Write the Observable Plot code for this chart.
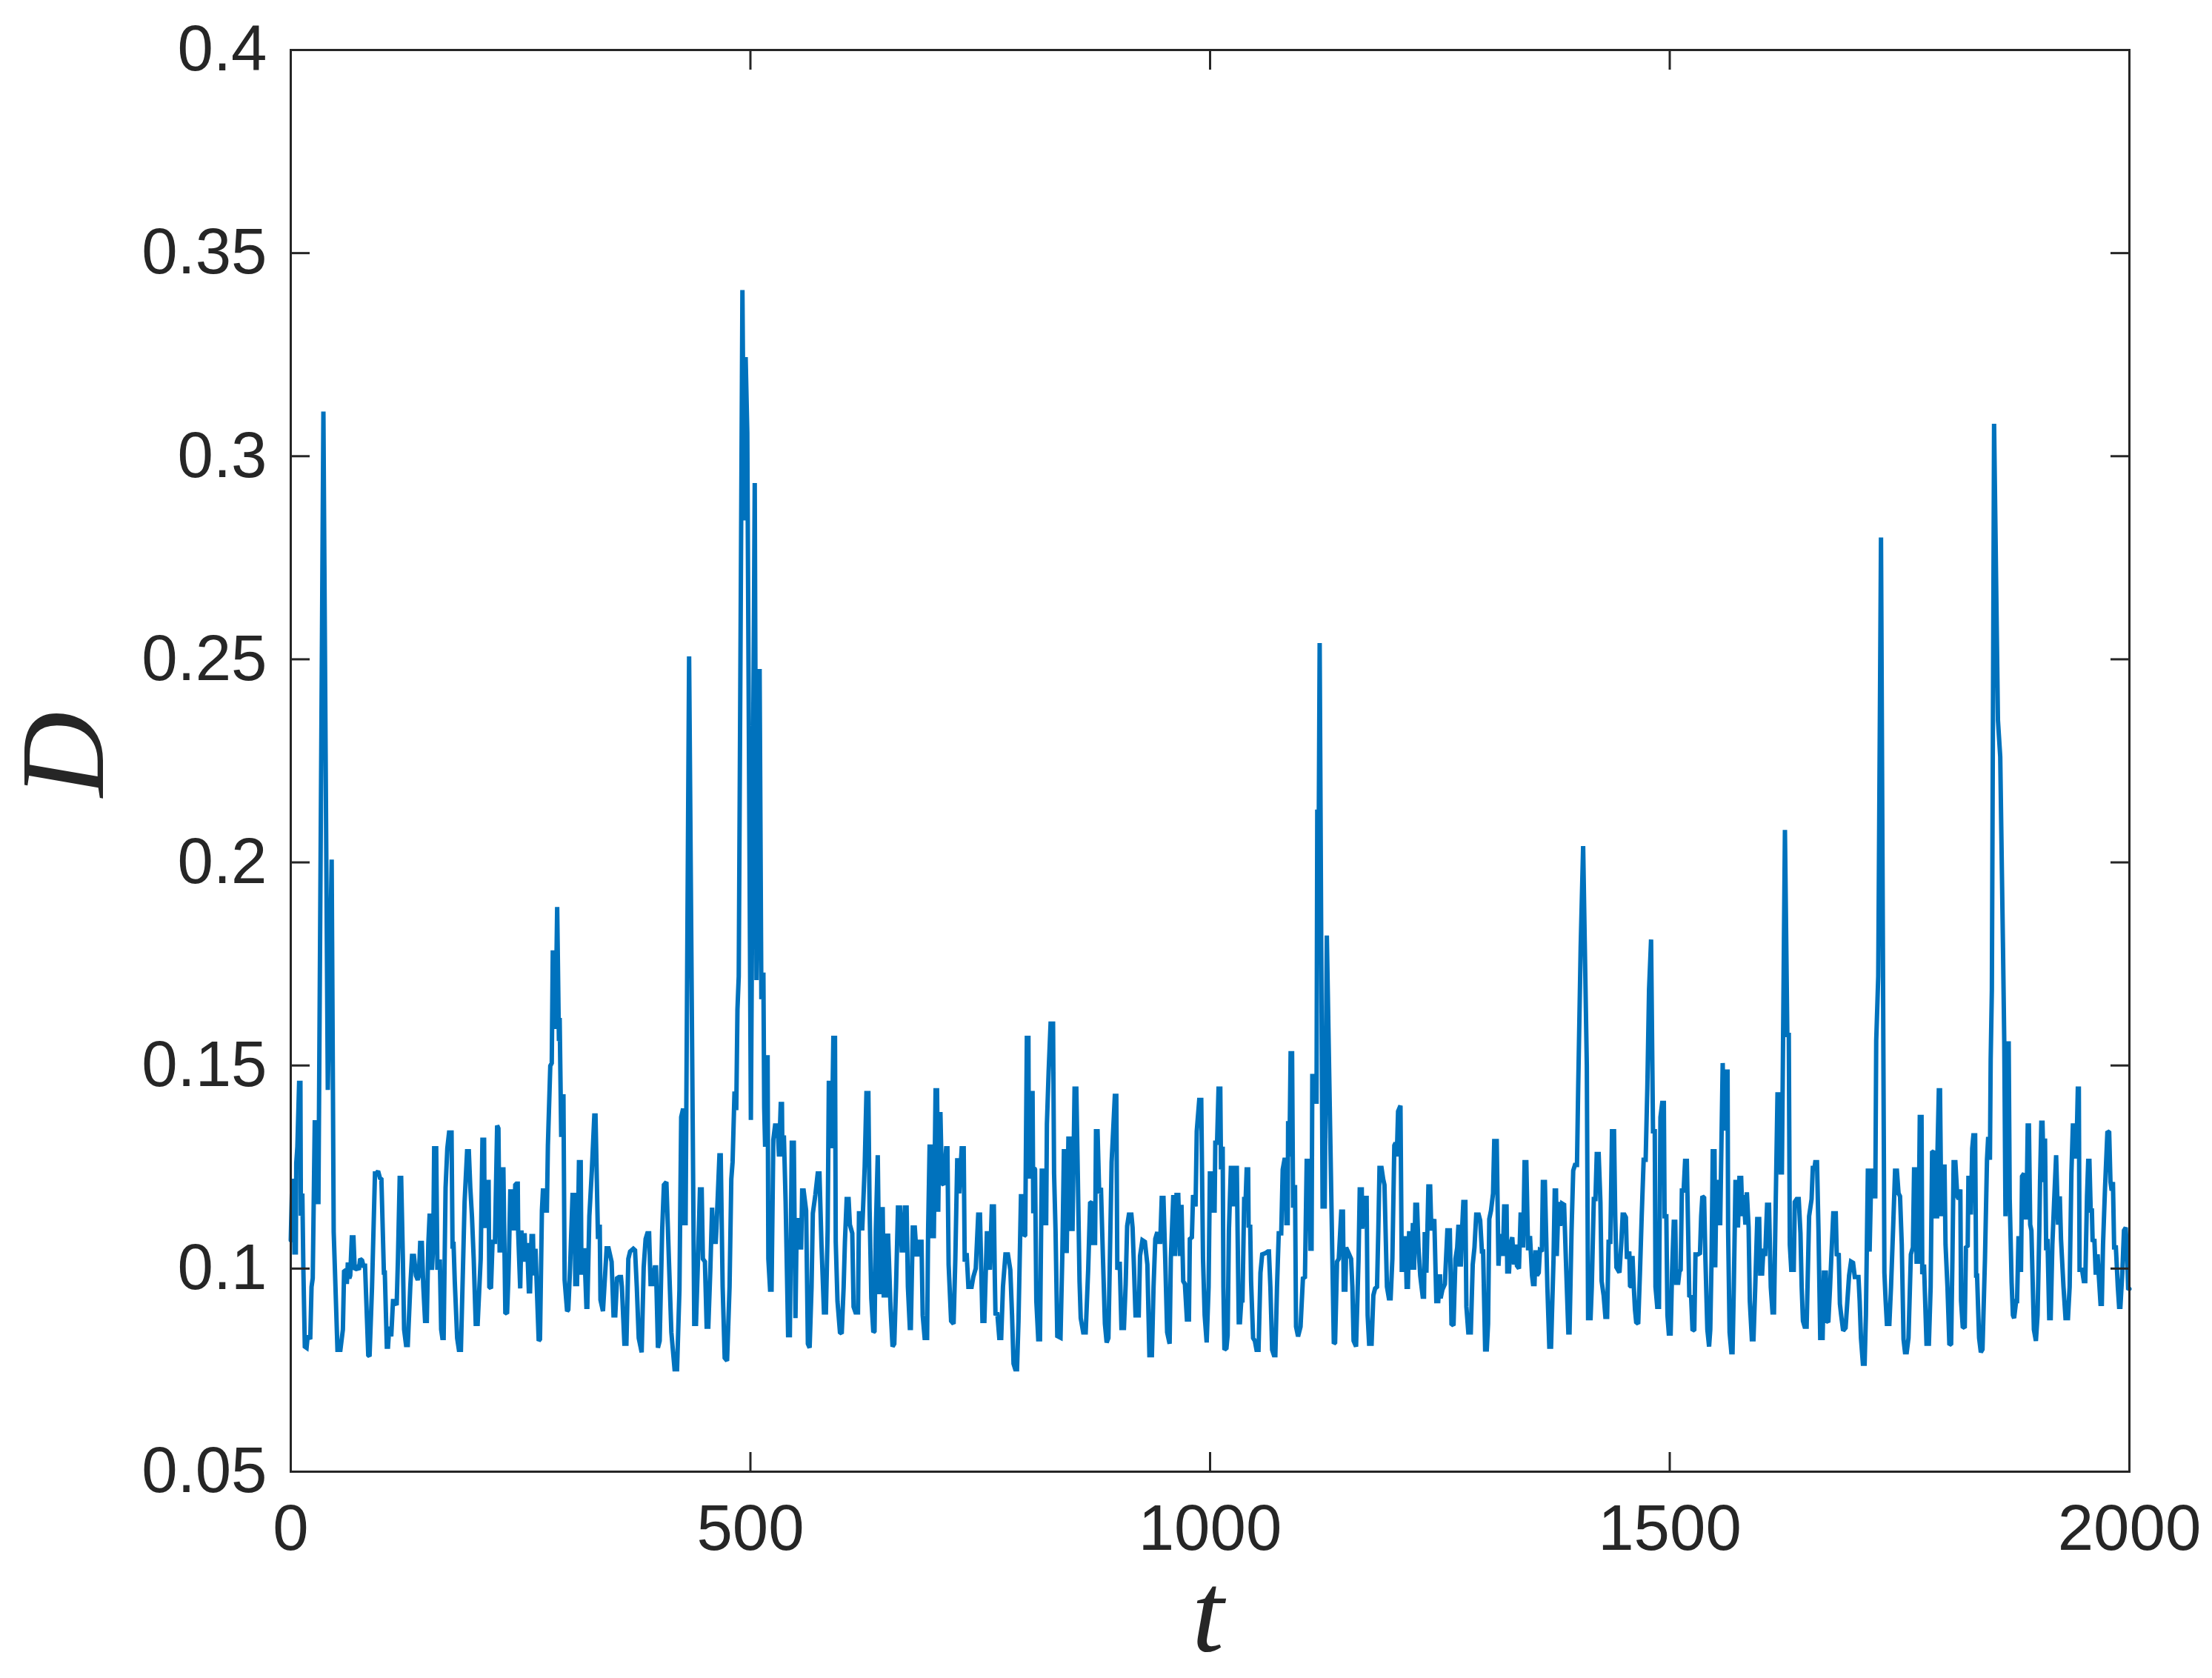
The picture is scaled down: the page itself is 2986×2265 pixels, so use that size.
<!DOCTYPE html>
<html>
<head>
<meta charset="utf-8">
<script src="https://cdn.jsdelivr.net/npm/d3@7"></script>
<script src="https://cdn.jsdelivr.net/npm/@observablehq/plot@0.6"></script>
<style>
  html, body { margin: 0; padding: 0; background: #fff; }
  #chart svg { display: block; }
</style>
</head>
<body>
<div id="chart"></div>
<script>
// ---- tick values and labels ----
const xTicks = [0, 500, 1000, 1500, 2000];
const xTickLabels = ["0", "500", "1000", "1500", "2000"];
const yTicks = [0.05, 0.1, 0.15, 0.2, 0.25, 0.3, 0.35, 0.4];
const yTickLabels = ["0.05", "0.1", "0.15", "0.2", "0.25", "0.3", "0.35", "0.4"];
const xLabel = "t";
const yLabel = "D";

// ---- series values, [t, D] ----
const seg0to245 = [[0,0.107],[1.5,0.1216],[3,0.1216],[4,0.104],[5.5,0.104],[6,0.126],[7.2,0.130],[9.1,0.1457],[10.5,0.1457],[11,0.113],[12.6,0.1185],[13.7,0.100],[15.3,0.0808],[17.2,0.0805],[18.5,0.0836],[21.2,0.0826],[22.6,0.0955],[23.9,0.0976],[26.1,0.136],[28,0.136],[28.7,0.1164],[30.1,0.1164],[35.5,0.311],[40.3,0.144],[44.5,0.2007],[46.7,0.109],[48,0.1],[50.8,0.080],[54,0.080],[56.7,0.085],[58,0.0993],[60.2,0.0997],[61,0.0962],[62.1,0.1015],[63.7,0.0976],[64.7,0.0983],[66.4,0.1077],[68.2,0.1077],[69.6,0.0997],[72.3,0.1003],[74.1,0.0997],[75.5,0.1024],[77.6,0.102],[79,0.1007],[80.8,0.1007],[84.3,0.0787],[85.7,0.0784],[88.4,0.0955],[91.6,0.1234],[93.2,0.1234],[95,0.124],[97,0.1223],[98.6,0.122],[101.3,0.099],[102.3,0.099],[104.5,0.0808],[105.8,0.0808],[107.2,0.0857],[109.3,0.0833],[111.2,0.092],[112.6,0.092],[115.2,0.091],[116.6,0.1024],[118.5,0.1223],[120.1,0.1223],[121.9,0.1031],[123.3,0.085],[125.4,0.0812],[127.3,0.0812],[130,0.0955],[131.9,0.1031],[134,0.1031],[136.2,0.0983],[138.1,0.0972],[139.4,0.0983],[140.8,0.1063],[142.6,0.1063],[144.2,0.0955],[146.1,0.0871],[148,0.0871],[149.6,0.1059],[151,0.113],[152.8,0.113],[153.6,0.0997],[155,0.1059],[156,0.1296],[158.2,0.1296],[159.5,0.0997],[160.9,0.1017],[162.2,0.1017],[163.6,0.085],[164.9,0.0829],[166.3,0.0829],[168.4,0.1199],[170.3,0.1296],[172.2,0.1335],[174.9,0.1335],[176,0.1049],[177,0.1066],[178.4,0.0969],[181,0.0829],[182.9,0.08],[185.1,0.08],[189.1,0.1164],[191.8,0.1289],[193.7,0.1289],[195.3,0.1199],[197.1,0.1129],[199,0.1024],[201.2,0.0864],[203.3,0.0864],[206.6,0.1024],[208.5,0.1317],[210.3,0.1317],[210.9,0.11],[212.5,0.1213],[215.2,0.1213],[216,0.0955],[217.8,0.0951],[219.5,0.1066],[222.1,0.1066],[224.5,0.1352],[225.9,0.1345],[227.2,0.1045],[228.8,0.1045],[230.2,0.1244],[231.3,0.1244],[233.4,0.0892],[235.3,0.0889],[236.6,0.097],[237.4,0.1038],[238.8,0.119],[241,0.119],[242.8,0.1094],[244.2,0.1206]];

const seg245to520 = [[245.5,0.1209],[246.9,0.1209],[247.4,0.1087],[249.6,0.0951],[250.9,0.1094],[252.8,0.1017],[254.4,0.1087],[255.5,0.1017],[257.1,0.1063],[259,0.0944],[260.3,0.0944],[261.9,0.108],[263.5,0.108],[264.3,0.0983],[266.2,0.1049],[269.7,0.0822],[271.1,0.0826],[273.2,0.1143],[274.3,0.1192],[275.9,0.1192],[277,0.1143],[278.6,0.1143],[279.7,0.1303],[282.3,0.1499],[283.9,0.1506],[285,0.1778],[287.2,0.1778],[288,0.159],[289.8,0.189],[291.7,0.156],[292.5,0.1617],[294.2,0.1324],[296.6,0.1429],[297.9,0.0972],[300.6,0.0895],[301.9,0.0899],[303.8,0.1],[306.5,0.1181],[308.7,0.1181],[309.5,0.0962],[311.4,0.0962],[313.5,0.1262],[315.4,0.1262],[316.2,0.099],[317.3,0.099],[318.1,0.1045],[319.4,0.1045],[321.6,0.0906],[322.6,0.0906],[324.8,0.1129],[327.5,0.1241],[330.2,0.1377],[331.5,0.1377],[334.2,0.1073],[336.1,0.1108],[336.9,0.0923],[339.6,0.0895],[343.6,0.105],[345.7,0.105],[349,0.1017],[351.1,0.0885],[353,0.0885],[354.9,0.0976],[357,0.0979],[359.2,0.0979],[360.2,0.0955],[362.9,0.0815],[365.1,0.0815],[367.2,0.1024],[369.1,0.1042],[372.6,0.1049],[374.5,0.1045],[376.4,0.0955],[378.5,0.0829],[381.7,0.0794],[383.9,0.1003],[386,0.1073],[387.9,0.1087],[389.8,0.1087],[391.4,0.0962],[393.3,0.0962],[396,0.1003],[397.3,0.1003],[399.4,0.0805],[401.3,0.0822],[404,0.1094],[405.9,0.1206],[408.6,0.1213],[411.3,0.1024],[414,0.0843],[417.5,0.0752],[420.2,0.0752],[422.8,0.0948],[424.7,0.1373],[426.8,0.1394],[428.2,0.1112],[429.5,0.1112],[433.3,0.2507],[438.9,0.0864],[440.8,0.0864],[443,0.1024],[445.1,0.1195],[447,0.1195],[448.3,0.1024],[450.5,0.1017],[452.4,0.0857],[454.2,0.0857],[456.4,0.0997],[458.3,0.115],[459.9,0.1066],[462.3,0.1066],[463.1,0.1101],[466.3,0.1279],[467.7,0.1279],[469.8,0.0955],[472,0.078],[474.6,0.0773],[477.3,0.0955],[479.2,0.122],[480.6,0.1262],[482.7,0.1436],[484.6,0.139],[485.9,0.1638],[487.3,0.172],[491.3,0.3409],[493.2,0.2842],[494.8,0.3244],[496.6,0.3058],[500.5,0.1366],[504.7,0.2934],[506.6,0.171],[510,0.2476],[511.9,0.1663],[514.1,0.1729],[515,0.1397],[516,0.13],[517.6,0.152],[518.7,0.152],[519.5,0.1024]];

const seg520to750 = [[521.4,0.0948],[523,0.0948],[524.9,0.1317],[526.8,0.1352],[529.5,0.1352],[531.1,0.1276],[533,0.1405],[534.3,0.1405],[534.8,0.1276],[536.4,0.1328],[538.3,0.1164],[541,0.0836],[542.9,0.0836],[545,0.131],[547.2,0.131],[549,0.0878],[550.4,0.1119],[552.6,0.1119],[553.6,0.1052],[555.2,0.1052],[556.3,0.1192],[557.9,0.1192],[560.6,0.1143],[562.5,0.0815],[564.4,0.0805],[566.5,0.0955],[567.9,0.1136],[570.6,0.1181],[573.2,0.1234],[575.1,0.1234],[577.3,0.1059],[580,0.0892],[582.1,0.0892],[584,0.1094],[585.3,0.1457],[587.5,0.1457],[588.5,0.1296],[590.2,0.1568],[592,0.1568],[592.8,0.1066],[594.7,0.092],[597.4,0.0843],[599.3,0.084],[601.4,0.0955],[602.8,0.1066],[604.7,0.1171],[606.8,0.1171],[608.2,0.1108],[610.8,0.1087],[612.2,0.0906],[614.3,0.0892],[617,0.0892],[618.1,0.1136],[619.7,0.1136],[621.6,0.1094],[624.3,0.1251],[626.2,0.1432],[628.3,0.1432],[629.6,0.115],[631.5,0.0927],[633.7,0.0843],[635,0.0846],[636.4,0.1094],[638.5,0.1279],[640.4,0.0937],[641.7,0.1146],[643.9,0.1146],[645,0.0934],[647.6,0.0934],[648.4,0.1081],[649.8,0.1081],[652.5,0.0899],[654.6,0.0808],[656.5,0.0815],[658.4,0.0955],[660.5,0.115],[662.7,0.115],[664.6,0.1045],[666.4,0.1045],[668,0.115],[669.9,0.115],[671.3,0.0955],[673.4,0.0854],[674.5,0.0854],[676.6,0.1101],[678.8,0.1101],[680.7,0.1035],[682.6,0.1035],[684.2,0.1066],[686.1,0.1066],[687.4,0.0885],[689.5,0.0829],[692.2,0.0829],[693.3,0.1094],[694.9,0.13],[696,0.13],[697.3,0.108],[699.5,0.108],[701.4,0.1439],[703,0.1439],[704.3,0.114],[705.7,0.138],[706.7,0.138],[708.3,0.121],[710.2,0.1206],[712.9,0.1296],[714.3,0.1296],[715.6,0.101],[718.3,0.0871],[721,0.0864],[722.9,0.1024],[725,0.1272],[727.1,0.1185],[729.8,0.1296],[732,0.1296],[733.1,0.1017],[735.2,0.1038],[737.1,0.0955],[740.6,0.0955],[742.5,0.098],[745.1,0.1],[747.8,0.1133],[749.7,0.1133]];

const seg750to1000 = [[752.4,0.0871],[754.5,0.0871],[757.2,0.1087],[758.6,0.1087],[760.5,0.0997],[762.6,0.1153],[764.8,0.1153],[765.8,0.0983],[766.6,0.0885],[768.5,0.0892],[770.7,0.0829],[772.8,0.0829],[774.7,0.0955],[777.4,0.1035],[780.1,0.1035],[782.7,0.0997],[784.6,0.0885],[786.2,0.0766],[788.1,0.0752],[790,0.0752],[791.6,0.0871],[794.3,0.1178],[796.2,0.1178],[797.5,0.108],[798.9,0.1083],[800.7,0.1568],[802.4,0.1568],[802.9,0.1227],[804.2,0.1227],[805.6,0.1432],[806.9,0.1432],[807.7,0.1136],[808.8,0.1248],[809.6,0.1244],[811,0.092],[813.1,0.0826],[815,0.0826],[816.9,0.1241],[818.5,0.1241],[819.8,0.1112],[821.7,0.1112],[822.5,0.1356],[824.4,0.1485],[826.5,0.1603],[829.2,0.1603],[830.3,0.1234],[831.9,0.1094],[833.8,0.0834],[837.3,0.083],[839.2,0.1024],[841,0.1289],[843.2,0.1289],[844,0.1038],[845.9,0.132],[847.2,0.132],[848.6,0.1098],[850.4,0.1098],[852.6,0.1443],[854.5,0.1443],[856.1,0.1234],[858,0.0969],[859.3,0.0878],[862,0.0843],[864.7,0.0843],[867.4,0.0997],[869.5,0.1161],[871.4,0.1164],[872.7,0.1063],[874.9,0.1063],[875.9,0.1338],[877.6,0.1338],[879.4,0.1185],[881.3,0.1199],[883.5,0.1024],[885.6,0.0864],[887.5,0.0818],[889.4,0.0829],[891,0.1024],[892.9,0.1262],[896.4,0.1425],[898,0.1425],[899.1,0.0997],[901.7,0.1017],[903.6,0.0854],[906.3,0.0854],[908.2,0.0962],[909.8,0.1105],[911.7,0.1133],[914.4,0.1133],[915.7,0.1101],[917,0.1017],[918.9,0.0885],[922.4,0.0885],[923.8,0.1031],[926.4,0.107],[929.1,0.1066],[931.8,0.101],[934,0.0787],[936.7,0.0787],[938.5,0.0955],[940.4,0.1073],[942.6,0.109],[943.9,0.1066],[945.8,0.1066],[947.4,0.1174],[949.3,0.1174],[951.2,0.1024],[953.3,0.0843],[956,0.0815],[957.3,0.1024],[960,0.1181],[961.9,0.1031],[963.5,0.1181],[965.4,0.1181],[967.3,0.1031],[968.9,0.1157],[970.8,0.0969],[972.6,0.0962],[974.8,0.0875],[977,0.0875],[978,0.1073],[980.2,0.1077],[981.5,0.1181],[984.2,0.1153],[985.5,0.1338],[988.2,0.1415],[990.4,0.1415],[992.3,0.1024],[994.1,0.0885],[996.3,0.0818],[998.4,0.0955],[999.8,0.1234],[1001.2,0.1234]];

const seg1000to1250 = [[1003,0.1143],[1004.9,0.1143],[1005.7,0.131],[1007.6,0.131],[1009.2,0.1443],[1011.1,0.1443],[1011.9,0.1244],[1013.7,0.13],[1014.5,0.0955],[1015.6,0.08],[1017.8,0.0804],[1019.1,0.0836],[1020.5,0.1094],[1022.6,0.1248],[1024.5,0.1248],[1025.3,0.1153],[1027.2,0.1248],[1029.1,0.1248],[1029.9,0.1094],[1031.2,0.0868],[1032.5,0.0868],[1033.9,0.092],[1035.2,0.0917],[1037.1,0.1171],[1038.7,0.1171],[1039.8,0.1244],[1041.4,0.1244],[1041.9,0.1101],[1043.6,0.1108],[1044.6,0.0969],[1046.8,0.0829],[1048.7,0.0822],[1050.5,0.08],[1052.7,0.08],[1054.8,0.099],[1056.7,0.1035],[1060.2,0.1038],[1062.9,0.1042],[1064,0.1042],[1065.6,0.0955],[1067.5,0.08],[1069.4,0.0787],[1071,0.0787],[1072.8,0.0955],[1074.7,0.1087],[1077.4,0.1087],[1079,0.1244],[1080.9,0.1268],[1082.2,0.1268],[1083,0.1112],[1084.4,0.1112],[1084.9,0.1363],[1086.3,0.1276],[1087.6,0.153],[1089.2,0.153],[1090.3,0.115],[1092.4,0.1206],[1093.5,0.0857],[1095.7,0.0833],[1098.4,0.0857],[1101,0.0976],[1103.2,0.0979],[1105.1,0.1265],[1107.8,0.1265],[1109.1,0.1049],[1110.4,0.1049],[1111.2,0.1474],[1113.1,0.1474],[1113.9,0.1411],[1115.8,0.1411],[1116.6,0.213],[1117.8,0.19],[1119.2,0.254],[1122.4,0.1153],[1124.7,0.1153],[1127,0.182],[1134.6,0.0815],[1136,0.0818],[1138.1,0.1017],[1140,0.1024],[1142.7,0.114],[1144.5,0.114],[1145.4,0.0948],[1147.2,0.0948],[1148,0.1052],[1150.7,0.1038],[1153.4,0.1024],[1154.8,0.0955],[1156.1,0.0822],[1158.8,0.0808],[1161.5,0.1024],[1162.8,0.1195],[1165,0.1195],[1165.5,0.1098],[1168.2,0.1174],[1170.3,0.1174],[1171.4,0.0885],[1173,0.0815],[1175.7,0.0815],[1177.6,0.0934],[1179.5,0.0951],[1181.6,0.0955],[1183,0.1094],[1184.3,0.1248],[1186.5,0.1248],[1188.3,0.122],[1189.7,0.1206],[1192.4,0.0955],[1194.5,0.0927],[1196.4,0.0927],[1198.3,0.1024],[1200.4,0.1303],[1201.8,0.131],[1203.1,0.1276],[1204.5,0.1387],[1207.1,0.1401],[1208.5,0.0997],[1210.6,0.0997],[1212.5,0.108],[1213.8,0.0955],[1215.2,0.0955],[1216.5,0.1087],[1217.9,0.1087],[1219.2,0.0997],[1220.6,0.1112],[1221.9,0.0997],[1223.3,0.1157],[1225.1,0.1157],[1226.7,0.1052],[1228.6,0.0983],[1231.3,0.0931],[1232.7,0.0931],[1233.5,0.109],[1235.3,0.099],[1237.5,0.1202],[1239.4,0.1202],[1240.7,0.1094],[1243.9,0.1122],[1246.1,0.092],[1248.2,0.092],[1250.1,0.0986]];

const seg1250to1500 = [[1250.8,0.0927],[1252.7,0.0948],[1255.4,0.0962],[1258.1,0.1094],[1260.8,0.1094],[1262.6,0.0864],[1264.8,0.086],[1266.9,0.1024],[1268.8,0.1052],[1270.2,0.1108],[1271.5,0.101],[1272.8,0.101],[1274.2,0.1101],[1275.5,0.1164],[1277.7,0.1164],[1278.8,0.0906],[1280.9,0.0843],[1283.6,0.0843],[1285.7,0.101],[1287.6,0.1052],[1289.5,0.1133],[1292.2,0.1133],[1293.8,0.1119],[1295.7,0.1042],[1297,0.1042],[1299.2,0.0801],[1301,0.0801],[1302.4,0.0864],[1303.7,0.1122],[1305.6,0.1143],[1307.8,0.1185],[1309.1,0.1314],[1311.8,0.1314],[1313.7,0.1007],[1315.3,0.108],[1317.2,0.108],[1318.5,0.1031],[1319.9,0.1153],[1322.5,0.1153],[1323.3,0.0993],[1325.2,0.0993],[1326.6,0.1059],[1328.7,0.1077],[1330.6,0.101],[1332.5,0.1059],[1333.8,0.1007],[1336,0.1],[1337.8,0.1133],[1339.5,0.1133],[1340.5,0.1052],[1342.1,0.1262],[1344,0.1262],[1345.9,0.1045],[1348,0.108],[1350.2,0.0983],[1351.3,0.0962],[1352.9,0.0962],[1354,0.1045],[1355.6,0.0983],[1357.5,0.099],[1358.8,0.1045],[1360.9,0.1042],[1362,0.1213],[1364.2,0.1213],[1366.9,0.0955],[1369,0.0808],[1370.9,0.0808],[1373.6,0.1024],[1374.9,0.1192],[1376.3,0.1192],[1377.1,0.1031],[1379,0.1164],[1380.8,0.1105],[1383,0.116],[1385.1,0.1157],[1387,0.1024],[1389.7,0.0843],[1391,0.0843],[1393.2,0.1094],[1395,0.1241],[1396.9,0.1255],[1399.1,0.1255],[1400.4,0.1443],[1403.1,0.179],[1405.8,0.204],[1409.8,0.15],[1411.2,0.0878],[1413.9,0.0878],[1415.2,0.0955],[1417.4,0.1171],[1419.2,0.1171],[1420.6,0.1282],[1422.7,0.1282],[1424.6,0.1164],[1425.9,0.0969],[1428.1,0.0934],[1430,0.0881],[1431.9,0.0881],[1433.5,0.1066],[1435.4,0.1066],[1437.2,0.1338],[1439.4,0.1338],[1440.7,0.1129],[1442,0.1003],[1445.3,0.099],[1447.4,0.1066],[1448.8,0.1133],[1450.7,0.1133],[1452.3,0.1126],[1453.4,0.1024],[1456,0.1042],[1456.8,0.0958],[1458.2,0.0955],[1459.5,0.1031],[1460.9,0.0955],[1462.2,0.0899],[1463.5,0.0868],[1465.7,0.0864],[1467.6,0.099],[1469.5,0.1129],[1471.6,0.1268],[1473.8,0.1268],[1475.6,0.1443],[1477.5,0.1687],[1479.7,0.181],[1481.8,0.1338],[1483.7,0.1338],[1484.5,0.0955],[1486.4,0.0906],[1488.3,0.0906],[1489.9,0.1373],[1491.8,0.1408],[1493.6,0.1408],[1494.4,0.1129],[1496.3,0.1129],[1497.5,0.0885],[1499,0.084],[1501,0.084]];

const seg1500to1750 = [[1502.5,0.099],[1504.4,0.1115],[1506,0.1115],[1507.1,0.0965],[1509.2,0.0965],[1510.6,0.0993],[1511.9,0.0997],[1513.2,0.1192],[1515.1,0.1192],[1516.7,0.1265],[1518.6,0.1265],[1520,0.1094],[1521.3,0.093],[1523.2,0.0934],[1524.8,0.0847],[1526.7,0.085],[1528,0.1035],[1530.7,0.1035],[1532.9,0.1038],[1534.2,0.1129],[1535.5,0.1178],[1537.4,0.1174],[1538.8,0.1024],[1540.9,0.085],[1542.8,0.0808],[1544.1,0.085],[1545.5,0.1024],[1546.8,0.1289],[1548.7,0.1289],[1549.5,0.1003],[1550.8,0.1213],[1552.2,0.1213],[1553.5,0.1112],[1554.9,0.1112],[1556.2,0.1303],[1557.6,0.1506],[1558.9,0.1345],[1560.3,0.1345],[1561.6,0.1485],[1562.9,0.1485],[1563.5,0.1094],[1565.1,0.0843],[1567,0.0794],[1568.3,0.0794],[1569.7,0.0955],[1571.5,0.1213],[1573.7,0.1213],[1574.2,0.1101],[1575.8,0.1223],[1577.7,0.1223],[1579,0.1129],[1580.4,0.1181],[1582.3,0.1108],[1583.9,0.1188],[1585.8,0.1101],[1587.1,0.092],[1589.3,0.0826],[1591.1,0.0826],[1593,0.0955],[1595.2,0.1122],[1597.3,0.1122],[1598.4,0.0988],[1600.5,0.0988],[1601.9,0.1049],[1603.8,0.1031],[1605.9,0.1157],[1608,0.1157],[1609.9,0.0955],[1611.8,0.0892],[1613.4,0.0892],[1615.3,0.1164],[1617.2,0.1429],[1619.3,0.1429],[1620.7,0.1237],[1622,0.1237],[1625.3,0.208],[1627.9,0.1575],[1629.5,0.1575],[1630.6,0.1059],[1632.2,0.0997],[1634.9,0.0997],[1636,0.1164],[1638.1,0.1171],[1640.3,0.1171],[1642.2,0.1087],[1643.5,0.0955],[1644.9,0.0871],[1646.7,0.0857],[1648.9,0.0857],[1651.6,0.1129],[1654.3,0.1171],[1655.6,0.1248],[1657.5,0.1248],[1658.3,0.1262],[1660.2,0.1262],[1661.8,0.1094],[1663.7,0.0829],[1666.3,0.0829],[1667.7,0.099],[1669.8,0.099],[1670.9,0.0871],[1672.5,0.0868],[1674.4,0.0955],[1675.7,0.1024],[1677.9,0.1136],[1680.6,0.1136],[1681.7,0.1031],[1683.8,0.1038],[1685.1,0.0913],[1686.5,0.0885],[1688.6,0.0847],[1691.3,0.0854],[1693.2,0.092],[1695.1,0.0983],[1697.2,0.1017],[1699.4,0.1014],[1701.3,0.0979],[1705.3,0.0979],[1706.6,0.092],[1708,0.0829],[1710.1,0.0766],[1712,0.0766],[1713.4,0.0885],[1715.5,0.1241],[1716.6,0.1241],[1717.4,0.1042],[1719.3,0.1241],[1720.9,0.1241],[1721.4,0.1178],[1723.6,0.1178],[1724.6,0.1561],[1726.8,0.172],[1729.8,0.28],[1733.5,0.099],[1734.8,0.0923],[1736.2,0.0864],[1738.9,0.0864],[1740.7,0.0955],[1742.9,0.1094],[1745.1,0.1241],[1747.1,0.1241],[1748.9,0.1185],[1750.5,0.1178]];

const seg1750to2000 = [[1752.4,0.1059],[1754.3,0.0826],[1755.9,0.0794],[1757.8,0.0794],[1759.7,0.0829],[1762.3,0.1035],[1764.5,0.1052],[1765.8,0.1244],[1767.2,0.1244],[1768.5,0.1017],[1770.4,0.1017],[1772,0.1373],[1773.9,0.1373],[1774.7,0.0986],[1776.6,0.101],[1779.3,0.0815],[1781.9,0.0815],[1783.8,0.0955],[1785.4,0.1286],[1787.3,0.1289],[1788.7,0.1129],[1790.8,0.1129],[1791.3,0.1293],[1792.7,0.1439],[1794,0.1439],[1795.4,0.1129],[1796.7,0.1251],[1798.9,0.1251],[1800,0.1059],[1802.1,0.0955],[1804.2,0.0812],[1806.1,0.0815],[1807.5,0.1024],[1808.8,0.1262],[1810.7,0.1262],[1812.8,0.1178],[1814.2,0.1171],[1816.1,0.1195],[1816.9,0.092],[1818.7,0.0857],[1820.9,0.0854],[1822.2,0.1052],[1824.1,0.1056],[1824.9,0.1223],[1826.8,0.1223],[1827.6,0.1133],[1829,0.1296],[1830.3,0.1328],[1832.2,0.1328],[1833.3,0.0983],[1834.3,0.0983],[1836.5,0.0829],[1838.4,0.0794],[1840.2,0.0801],[1842.9,0.1024],[1845.1,0.1268],[1846.4,0.1324],[1848.3,0.1268],[1849.1,0.1513],[1850.4,0.1687],[1852.8,0.308],[1857,0.235],[1859.5,0.226],[1862.5,0.179],[1863.9,0.1554],[1865.2,0.1129],[1867.1,0.1554],[1868.7,0.1554],[1869.8,0.1171],[1871.9,0.0965],[1873.3,0.0885],[1874.6,0.0878],[1876.8,0.092],[1877.8,0.092],[1879.4,0.108],[1880.5,0.0997],[1882.1,0.0997],[1883.2,0.1227],[1885.4,0.1234],[1886.7,0.1126],[1888,0.1126],[1889.4,0.1352],[1890.7,0.1352],[1892.1,0.1108],[1893.4,0.1094],[1896.1,0.085],[1898.3,0.0822],[1900.1,0.0885],[1902,0.1094],[1902.8,0.1213],[1904.2,0.1359],[1905.5,0.1359],[1906.8,0.1213],[1908.2,0.132],[1909.5,0.1045],[1910.9,0.1073],[1912.8,0.0878],[1914.4,0.0878],[1916.2,0.1059],[1918.1,0.1164],[1920.3,0.1279],[1922.4,0.1108],[1924.3,0.1178],[1925.6,0.1073],[1928.3,0.0955],[1930.5,0.0878],[1933.2,0.0878],[1935,0.0955],[1936.9,0.1234],[1938.5,0.1352],[1940.4,0.1352],[1941.2,0.1276],[1942.3,0.1276],[1943.9,0.1443],[1945,0.1443],[1945.8,0.0997],[1948.5,0.0997],[1950.4,0.0969],[1952,0.0969],[1953.9,0.1178],[1955.2,0.1265],[1956.5,0.1265],[1957.9,0.1143],[1959.2,0.1143],[1960,0.1066],[1961.9,0.1073],[1963.3,0.099],[1964.6,0.099],[1965.4,0.1035],[1966.5,0.099],[1968.6,0.0913],[1970,0.0913],[1971.3,0.1059],[1973.5,0.1199],[1976.1,0.1338],[1978,0.1335],[1979.4,0.1213],[1980.7,0.1192],[1982.1,0.1213],[1983.4,0.1052],[1985.3,0.1052],[1987.4,0.0955],[1988.8,0.0906],[1990.2,0.0906],[1992.3,0.099],[1994.1,0.1094],[1996,0.1101],[1997.6,0.1024],[1998.7,0.0948],[2000,0.095]];

const series = [seg0to245, seg245to520, seg520to750, seg750to1000, seg1000to1250, seg1250to1500, seg1500to1750, seg1750to2000]
  .flat()
  .map(([t, D]) => ({t, D}));

const ink = "#262626";
const tickFont = "Liberation Sans, Arial, Helvetica, sans-serif";
const labelFont = "Liberation Serif, Times New Roman, serif";
const xFmt = d => xTickLabels[xTicks.indexOf(d)];
const yFmt = d => yTickLabels[yTicks.indexOf(d)];
const blank = () => "";

const chart = Plot.plot({
  width: 2986,
  height: 2265,
  marginLeft: 392,
  marginRight: 112,
  marginTop: 67,
  marginBottom: 279,
  style: {background: "#fff", color: ink, fontFamily: tickFont, overflow: "visible"},
  x: {domain: [0, 2000]},
  y: {domain: [0.05, 0.4]},
  marks: [
    Plot.line(series, {x: "t", y: "D", stroke: "#0072BD", strokeWidth: 6, strokeLinejoin: "miter", strokeMiterlimit: 2}),
    Plot.frame({stroke: ink, strokeWidth: 3}),
    // tick labels
    Plot.axisY(yTicks, {anchor: "left", tickSize: 0, tickPadding: 32, tickFormat: yFmt, fontSize: 87, fontFamily: tickFont, fill: ink, label: null}),
    Plot.axisX(xTicks, {anchor: "bottom", tickSize: 0, tickPadding: 44, tickFormat: xFmt, fontSize: 87, fontFamily: tickFont, fill: ink, label: null}),
    // inward tick marks on all four sides
    Plot.axisY(yTicks, {anchor: "left", tickSize: 26, dx: 26, strokeWidth: 3, stroke: ink, tickFormat: blank, label: null}),
    Plot.axisY(yTicks, {anchor: "right", tickSize: 26, dx: -26, strokeWidth: 3, stroke: ink, tickFormat: blank, label: null}),
    Plot.axisX(xTicks, {anchor: "bottom", tickSize: 26, dy: -26, strokeWidth: 3, stroke: ink, tickFormat: blank, label: null}),
    Plot.axisX(xTicks, {anchor: "top", tickSize: 26, dy: 26, strokeWidth: 3, stroke: ink, tickFormat: blank, label: null}),
    // axis titles
    Plot.text([yLabel], {frameAnchor: "left", dx: -305, dy: 49, rotate: -90, fontFamily: labelFont, fontStyle: "italic", fontSize: 160, fill: ink}),
    Plot.text([xLabel], {frameAnchor: "bottom", dx: -3, dy: 241, fontFamily: labelFont, fontStyle: "italic", fontSize: 155, fill: ink})
  ]
});

document.getElementById("chart").appendChild(chart);
</script>
</body>
</html>
